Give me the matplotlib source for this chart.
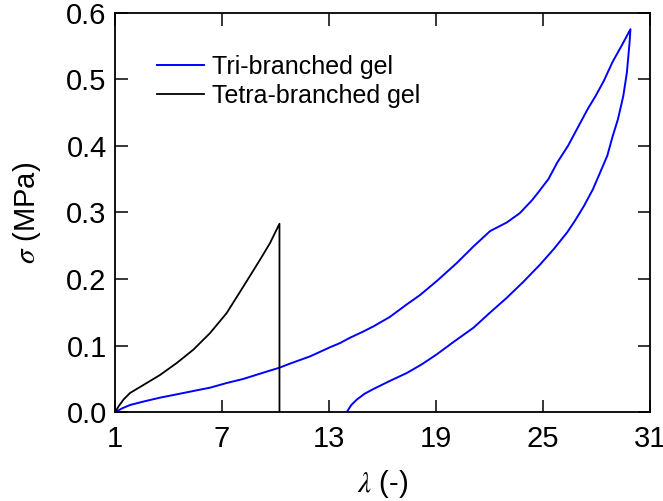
import numpy as np
from matplotlib import pyplot as plt

plt.rcParams['font.family'] = ['Liberation Sans', 'DejaVu Sans']
plt.rcParams['mathtext.fontset'] = 'stix'

# Tri-branched gel: loading then unloading
tri_x = [1.0, 1.4, 1.84, 2.57, 3.52, 4.46, 5.39, 6.33, 7.26, 8.18, 9.13, 10.22, 10.8,
         11.94, 13.0, 13.62, 14.18, 14.9, 15.49, 16.4, 17.36, 18.1, 19.04, 20.16, 21.1,
         22.03, 22.97, 23.7, 24.37, 24.7, 25.3, 25.8, 26.4, 26.9, 27.5, 27.95, 28.4, 28.9,
         29.4, 29.9,
         29.85, 29.7, 29.5, 29.2, 28.9, 28.6, 28.2, 27.8, 27.3, 26.8, 26.35, 25.6, 24.84,
         23.9, 22.97, 22.0, 21.1, 20.0, 19.04, 18.2, 17.36, 16.4, 15.49, 15.0, 14.55,
         14.25, 14.03]
tri_y = [0.0, 0.006, 0.011, 0.016, 0.022, 0.027, 0.032, 0.037, 0.044, 0.050, 0.058, 0.067,
         0.073, 0.084, 0.097, 0.104, 0.112, 0.121, 0.129, 0.143, 0.162, 0.176, 0.197,
         0.224, 0.249, 0.272, 0.285, 0.299, 0.318, 0.329, 0.350, 0.375, 0.400, 0.425,
         0.455, 0.475, 0.497, 0.526, 0.550, 0.575,
         0.555, 0.51, 0.475, 0.44, 0.414, 0.385, 0.36, 0.335, 0.31, 0.288, 0.27, 0.245,
         0.222, 0.196, 0.172, 0.149, 0.127, 0.106, 0.087, 0.072, 0.059, 0.047, 0.035,
         0.028, 0.019, 0.011, 0.002]

# Tetra-branched gel: loading then break
tetra_x = [1.0, 1.2, 1.47, 1.84, 2.59, 3.52, 4.46, 5.39, 6.33, 7.26, 8.2, 9.13, 9.69,
           10.22, 10.22]
tetra_y = [0.0, 0.009, 0.019, 0.029, 0.041, 0.056, 0.074, 0.094, 0.119, 0.149, 0.189,
           0.229, 0.254, 0.283, 0.0]

fig = plt.figure(figsize=(6.63, 5.01), dpi=100)
ax = fig.add_axes([0.1735, 0.177, 0.807, 0.798])

ax.plot(tri_x, tri_y, color='#0000ff', lw=1.4, label='Tri-branched gel',
        solid_joinstyle='round')
ax.plot(tetra_x, tetra_y, color='black', lw=1.3, label='Tetra-branched gel',
        solid_joinstyle='round')

ax.set_xlim(1, 31)
ax.set_ylim(0, 0.6)
ax.set_xticks([1, 7, 13, 19, 25, 31])
ax.set_yticks([0.0, 0.1, 0.2, 0.3, 0.4, 0.5, 0.6])
ax.set_yticklabels(['0.0', '0.1', '0.2', '0.3', '0.4', '0.5', '0.6'])
ax.tick_params(direction='in', top=True, right=True, length=9, width=1.1,
               labelsize=21)
ax.tick_params(axis='x', pad=9)
ax.tick_params(axis='y', pad=6)
for s in ax.spines.values():
    s.set_linewidth(1.3)

ax.set_xlabel(r'$\lambda$ (-)', fontsize=21, labelpad=11)
ax.set_ylabel(r'$\sigma$ (MPa)', fontsize=21, labelpad=17)

ax.legend(loc='upper left', bbox_to_anchor=(0.078, 0.895), frameon=False, fontsize=18,
          handlelength=1.9, handletextpad=0.3, labelspacing=0.2, borderaxespad=0,
          borderpad=0)

fig.savefig('out.png', dpi=100)
